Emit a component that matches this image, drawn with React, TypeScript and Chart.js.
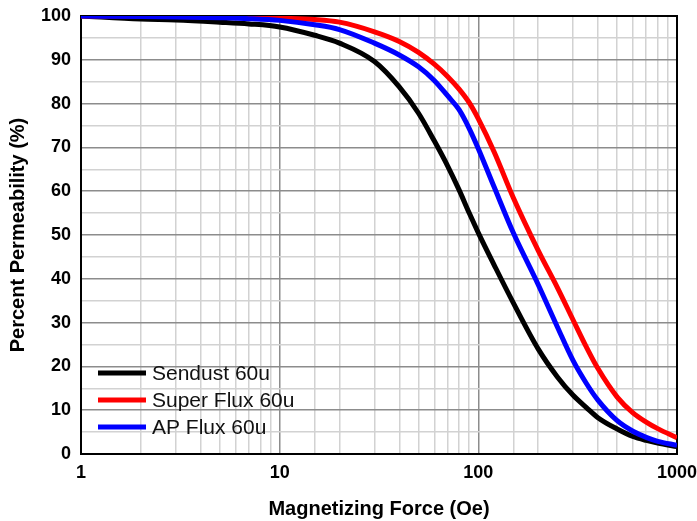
import React, { useEffect, useRef } from "react";
import { Chart, registerables } from "chart.js";

Chart.register(...registerables);

// Magnetizing force (Oe), shared x positions for all series
const forceOe = [1, 2, 3, 5, 7, 10, 15, 20, 30, 40, 50, 60, 70, 80, 90, 100, 120, 150, 200, 250, 300, 350, 400, 500, 600, 700, 800, 1000];

// Percent permeability (%)
const sendust60u = [100, 99.3, 99.1, 98.6, 98.2, 97.5, 95.6, 93.8, 89.6, 83.8, 77.8, 71.5, 65.8, 60.3, 55.0, 50.5, 43.2, 34.5, 24.0, 17.6, 13.4, 10.6, 8.3, 5.7, 4.0, 3.1, 2.5, 1.7];
const superFlux60u = [100, 100, 99.9, 99.8, 99.7, 99.5, 99.2, 98.6, 96.4, 94.2, 91.7, 89.0, 86.2, 83.3, 80.2, 76.5, 69.0, 58.5, 46.5, 38.0, 30.6, 24.4, 19.5, 13.0, 9.4, 7.3, 5.8, 3.7];
const apFlux60u = [100, 99.9, 99.8, 99.6, 99.4, 99.0, 98.0, 96.9, 93.8, 91.1, 88.4, 85.3, 81.8, 78.6, 74.3, 69.7, 61.0, 50.5, 38.7, 29.0, 21.3, 16.1, 12.3, 7.6, 5.2, 3.8, 2.9, 2.0];

const seriesLabels = ["Sendust 60u", "Super Flux 60u", "AP Flux 60u"];
const seriesColors = ["#000000", "#ff0000", "#0000ff"];
const seriesValues = [sendust60u, superFlux60u, apFlux60u];

const xTickLabels = [1, 10, 100, 1000];
const yMin = 0;
const yMax = 100;

const MAJOR_GRID = "#8c8c8c";
const MINOR_GRID = "#d2d2d2";

const isDecade = (v: number) => {
  const l = Math.log10(v);
  return Math.abs(l - Math.round(l)) < 1e-9;
};

const zeroPadding = (s: any) => {
  s.paddingLeft = 0;
  s.paddingRight = 0;
  s.paddingTop = 0;
  s.paddingBottom = 0;
};

const framePlugin = {
  id: "frame",
  beforeDatasetsDraw(chart: any) {
    const { ctx, chartArea } = chart;
    ctx.save();
    ctx.strokeStyle = "#000";
    ctx.lineWidth = 2;
    ctx.strokeRect(chartArea.left, chartArea.top, chartArea.right - chartArea.left, chartArea.bottom - chartArea.top);
    ctx.restore();
  },
};

const legendPlugin = {
  id: "insideLegend",
  afterDatasetsDraw(chart: any) {
    const { ctx, chartArea } = chart;
    const x0 = chartArea.left + 17;
    const y0 = chartArea.top + 357;
    const rowH = 27;
    ctx.save();
    ctx.font = "21px 'Liberation Sans', Arial, sans-serif";
    ctx.textBaseline = "middle";
    ctx.textAlign = "left";
    chart.data.datasets.forEach((ds: any, i: number) => {
      const y = y0 + i * rowH;
      ctx.strokeStyle = ds.borderColor;
      ctx.lineWidth = 5;
      ctx.beginPath();
      ctx.moveTo(x0, y);
      ctx.lineTo(x0 + 48, y);
      ctx.stroke();
      ctx.fillStyle = "#111";
      ctx.fillText(ds.label, x0 + 54, y + 1);
    });
    ctx.restore();
  },
};

export default function App() {
  const canvasRef = useRef<HTMLCanvasElement | null>(null);

  useEffect(() => {
    document.body.style.margin = "0";
    const canvas = canvasRef.current;
    if (!canvas) return;
    const datasets = seriesValues.map((vals, i) => ({
      label: seriesLabels[i],
      data: forceOe.map((x, j) => ({ x, y: vals[j] })),
      borderColor: seriesColors[i],
      backgroundColor: seriesColors[i],
      borderWidth: 5,
      pointRadius: 0,
      fill: false,
      cubicInterpolationMode: "monotone" as const,
      order: 3 - i,
    }));
    const chart = new Chart(canvas, {
      type: "line",
      data: { datasets },
      options: {
        animation: false,
        responsive: true,
        maintainAspectRatio: false,
        layout: { padding: { top: 16, right: 20, bottom: 0, left: 0 } },
        plugins: {
          legend: { display: false },
          tooltip: { enabled: false },
        },
        scales: {
          x: {
            type: "logarithmic",
            min: 1,
            max: 1000,
            afterFit: (s: any) => {
              s.height = 67;
              zeroPadding(s);
            },
            border: { display: false },
            grid: {
              drawTicks: false,
              color: (c: any) => (isDecade(c.tick.value) ? MAJOR_GRID : MINOR_GRID),
              lineWidth: 1.5,
            },
            ticks: {
              autoSkip: false,
              maxRotation: 0,
              padding: 8,
              color: "#000",
              font: { family: "'Liberation Sans', Arial, sans-serif", size: 18, weight: "bold" },
              callback: (v: any) => (xTickLabels.includes(Number(v)) ? String(v) : ""),
            },
            title: {
              display: true,
              text: "Magnetizing Force (Oe)",
              color: "#000",
              font: { family: "'Liberation Sans', Arial, sans-serif", size: 20, weight: "bold" },
              padding: { top: 0, bottom: 0 },
            },
          },
          y: {
            type: "linear",
            min: yMin,
            max: yMax,
            afterFit: (s: any) => {
              s.width = 81;
              zeroPadding(s);
            },
            border: { display: false },
            grid: {
              drawTicks: false,
              color: (c: any) => (c.tick.value % 10 === 0 ? MAJOR_GRID : MINOR_GRID),
              lineWidth: 1.5,
            },
            ticks: {
              stepSize: 5,
              autoSkip: false,
              padding: 10,
              color: "#000",
              font: { family: "'Liberation Sans', Arial, sans-serif", size: 18, weight: "bold" },
              callback: (v: any) => (Number(v) % 10 === 0 ? String(v) : ""),
            },
            title: {
              display: true,
              text: "Percent Permeability (%)",
              color: "#000",
              font: { family: "'Liberation Sans', Arial, sans-serif", size: 20, weight: "bold" },
              padding: { top: 6, bottom: 0 },
            },
          },
        },
      },
      plugins: [framePlugin, legendPlugin],
    });
    return () => chart.destroy();
  }, []);

  return (
    <div style={{ width: 697, height: 521, position: "relative" }}>
      <canvas ref={canvasRef} />
    </div>
  );
}
